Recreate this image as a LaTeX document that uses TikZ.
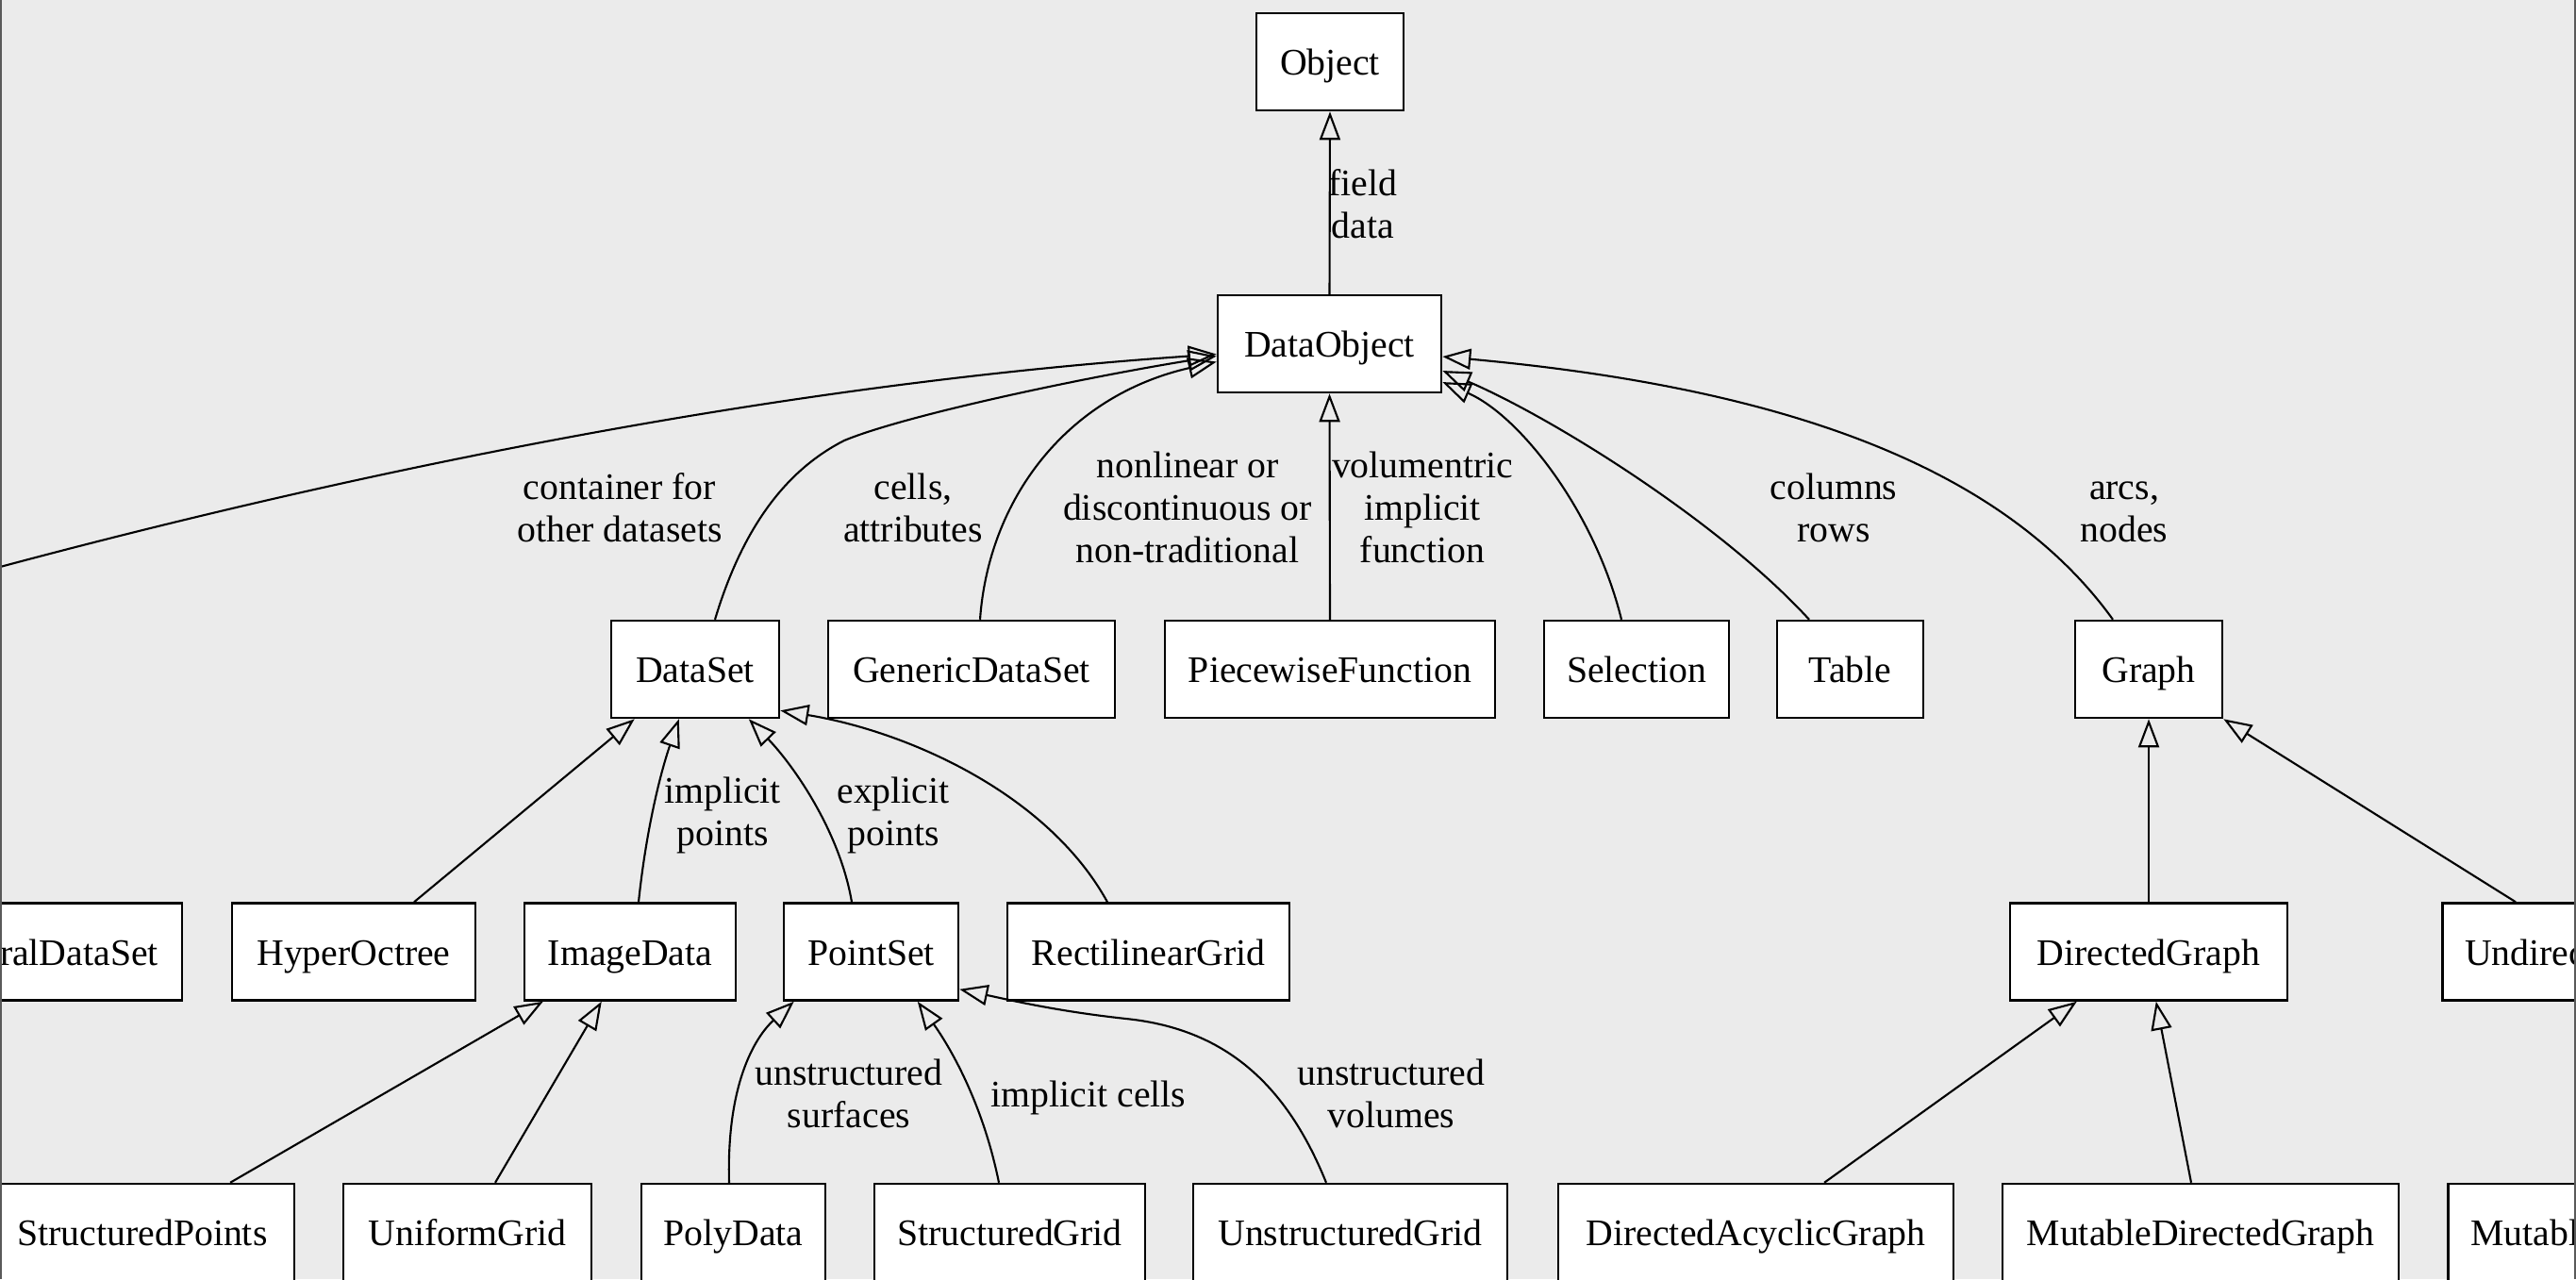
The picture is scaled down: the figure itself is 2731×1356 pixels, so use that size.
\documentclass[tikz,border=0pt]{standalone}
\usepackage{fontspec}
\setmainfont{Liberation Serif}
\usetikzlibrary{arrows.meta}
\definecolor{bg}{HTML}{EBEBEB}
\definecolor{framegray}{HTML}{5A5A5A}
\begin{document}
\begin{tikzpicture}[x=0.01cm,y=-0.01cm,
  box/.style={draw=black, fill=white, line width=0.7pt, minimum height=1.03cm, inner sep=0pt, text height=9.5pt, text depth=1.5pt, font=\fontsize{11.3pt}{12.8pt}\selectfont},
  lbl/.style={align=center, inner sep=0pt, font=\fontsize{11.3pt}{12.8pt}\selectfont},
  inh/.style={draw=black, line width=0.6pt, -{Triangle[open, length=0.3cm, width=0.22cm]}},
  frameline/.style={draw=framegray, line width=0.6pt}]
\useasboundingbox (0,0) rectangle (2731,1356);
\fill[bg] (0,0) rectangle (2731,1356);
\begin{scope}
\clip (0,0) rectangle (2731,1356);
% row 1-2
\node[box, minimum width=1.56cm] (Object) at (1410,65.5) {Object};
\node[box, minimum width=2.37cm] (DataObject) at (1409.5,364.5) {DataObject};
% row 3
\node[box, minimum width=1.78cm] (DataSet) at (737,709.5) {DataSet};
\node[box, minimum width=3.04cm] (GenericDataSet) at (1030,709.5) {GenericDataSet};
\node[box, minimum width=3.50cm] (PiecewiseFunction) at (1410,709.5) {PiecewiseFunction};
\node[box, minimum width=1.96cm] (Selection) at (1735,709.5) {Selection};
\node[box, minimum width=1.55cm] (Table) at (1961.5,709.5) {Table};
\node[box, minimum width=1.56cm] (Graph) at (2278,709.5) {Graph};
% row 4
\node[box, anchor=east, text width=2.5cm, align=right, inner xsep=0.25cm] (TemporalDS) at (194,1009) {ralDataSet};
\node[box, minimum width=2.58cm] (HyperOctree) at (375,1009) {HyperOctree};
\node[box, minimum width=2.24cm] (ImageData) at (668,1009) {ImageData};
\node[box, minimum width=1.85cm] (PointSet) at (923.5,1009) {PointSet};
\node[box, minimum width=2.99cm] (RectilinearGrid) at (1217.5,1009) {RectilinearGrid};
\node[box, minimum width=2.94cm] (DirectedGraph) at (2278,1009) {DirectedGraph};
\node[box, anchor=west, text width=2cm, align=left, inner xsep=0.24cm] (Undirec) at (2588,1009) {Undirec};
% row 5
\node[box, minimum width=3.22cm] (StructuredPoints) at (151,1306.5) {StructuredPoints};
\node[box, minimum width=2.63cm] (UniformGrid) at (495.5,1306.5) {UniformGrid};
\node[box, minimum width=1.95cm] (PolyData) at (777.5,1306.5) {PolyData};
\node[box, minimum width=2.87cm] (StructuredGrid) at (1070.5,1306.5) {StructuredGrid};
\node[box, minimum width=3.33cm] (UnstructuredGrid) at (1431.5,1306.5) {UnstructuredGrid};
\node[box, minimum width=4.19cm] (DAG) at (1861.5,1306.5) {DirectedAcyclicGraph};
\node[box, minimum width=4.20cm] (MutableDG) at (2333,1306.5) {MutableDirectedGraph};
\node[box, anchor=west, text width=2cm, align=left, inner xsep=0.24cm] (Mutabl) at (2594,1306.5) {Mutabl};
% labels
\node[lbl] (Lfield) at (1445,220.5) {field\strut\\data\strut};
\node[lbl] (Lcontainer) at (657,543) {container for\strut\\other datasets\strut};
\node[lbl] (Lcells) at (968,543) {cells,\strut\\attributes\strut};
\node[lbl] (Lnonlinear) at (1259,542) {nonlinear or\strut\\discontinuous or\strut\\non-traditional\strut};
\node[lbl] (Lvolum) at (1508,542) {volumentric\strut\\implicit\strut\\function\strut};
\node[lbl] (Lcolumns) at (1944,543) {columns\strut\\rows\strut};
\node[lbl] (Larcs) at (2252,543) {arcs,\strut\\nodes\strut};
\node[lbl] (Limplicitpts) at (766,865) {implicit\strut\\points\strut};
\node[lbl] (Lexplicitpts) at (947,865) {explicit\strut\\points\strut};
\node[lbl] (Lsurfaces) at (900,1164) {unstructured\strut\\surfaces\strut};
\node[lbl] (Lcells2) at (1154,1164) {implicit cells\strut};
\node[lbl] (Lvolumes) at (1475,1164) {unstructured\strut\\volumes\strut};
% off-screen source of the composite edge
\coordinate (CompositeEnd) at (0,601);
% edges
\draw[inh] (DataObject.north) -- (Object.south);
\draw[inh] (CompositeEnd) .. controls (430,486) and (861,405) .. ([yshift=-0.11cm]DataObject.west);
\draw[inh] ([xshift=0.21cm]DataSet.north) .. controls (790,550) and (840,495) .. (895,467) .. controls (960,440) and (1150,400) .. ([yshift=-0.13cm]DataObject.west);
\draw[inh] ([xshift=0.09cm]GenericDataSet.north) .. controls (1048,530) and (1130,420) .. ([yshift=-0.19cm]DataObject.west);
\draw[inh] (PiecewiseFunction.north) -- (DataObject.south);
\draw[inh] ([xshift=-0.16cm]Selection.north) .. controls (1690,540) and (1610,440) .. ([yshift=-0.405cm]DataObject.east);
\draw[inh] ([xshift=-0.435cm]Table.north) .. controls (1820,550) and (1640,440) .. ([yshift=-0.285cm]DataObject.east);
\draw[inh] ([xshift=-0.38cm]Graph.north) .. controls (2120,490) and (1880,410) .. ([yshift=-0.135cm]DataObject.east);
\draw[inh] ([xshift=0.64cm]HyperOctree.north) -- ([xshift=0.26cm]DataSet.south west);
\draw[inh] ([xshift=0.09cm]ImageData.north) .. controls (685,880) and (700,820) .. ([xshift=0.73cm]DataSet.south west);
\draw[inh] ([xshift=-0.205cm]PointSet.north) .. controls (890,880) and (840,810) .. ([xshift=1.47cm]DataSet.south west);
\draw[inh] ([xshift=-0.435cm]RectilinearGrid.north) .. controls (1110,840) and (960,775) .. ([yshift=0.09cm]DataSet.south east);
\draw[inh] ([xshift=0.93cm]StructuredPoints.north) -- ([xshift=0.21cm]ImageData.south west);
\draw[inh] ([xshift=0.295cm]UniformGrid.north) -- ([xshift=0.83cm]ImageData.south west);
\draw[inh] ([xshift=-0.045cm]PolyData.north) .. controls (770,1150) and (800,1100) .. ([xshift=0.12cm]PointSet.south west);
\draw[inh] ([xshift=-0.115cm]StructuredGrid.north) .. controls (1040,1160) and (1000,1100) .. ([xshift=1.43cm]PointSet.south west);
\draw[inh] ([xshift=-0.255cm]UnstructuredGrid.north) .. controls (1360,1140) and (1290,1090) .. (1194,1080) .. controls (1120,1072) and (1070,1060) .. ([yshift=0.13cm]PointSet.south east);
\draw[inh] (DirectedGraph.north) -- (Graph.south);
\draw[inh] ([xshift=0.79cm]Undirec.north west) -- (Graph.south east);
\draw[inh] ([xshift=0.725cm]DAG.north) -- ([xshift=0.72cm]DirectedGraph.south west);
\draw[inh] ([xshift=-0.10cm]MutableDG.north) -- ([xshift=1.56cm]DirectedGraph.south west);
\end{scope}
\draw[frameline] (1,0) -- (1,1356);
\draw[frameline] (2730,0) -- (2730,1356);
\end{tikzpicture}
\end{document}
